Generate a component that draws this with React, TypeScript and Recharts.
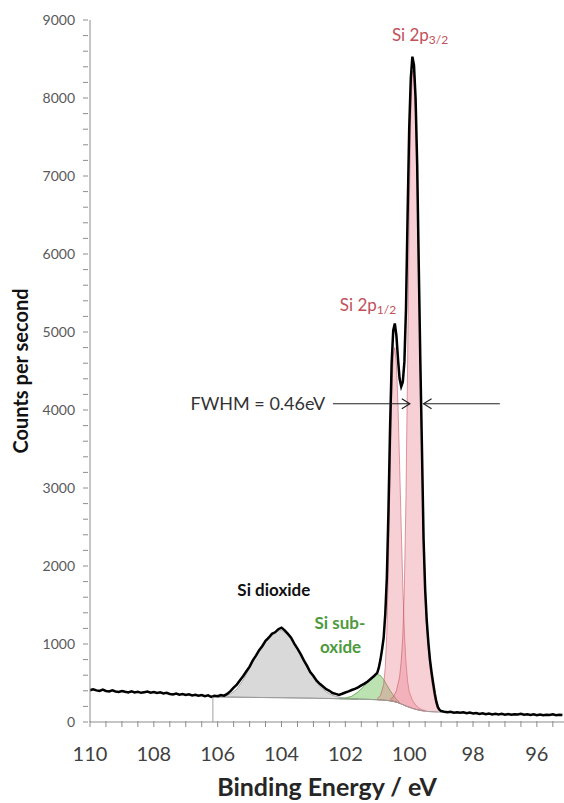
import {
  ComposedChart,
  Area,
  Line,
  XAxis,
  YAxis,
  ReferenceLine,
  ReferenceDot,
} from 'recharts';

// measured spectrum (binding energy, counts per second)
const ENERGY = [
  110.0, 109.9, 109.8, 109.7, 109.6, 109.5, 109.4, 109.3, 109.2, 109.1,
  109.0, 108.9, 108.8, 108.7, 108.6, 108.5, 108.4, 108.3, 108.2, 108.1,
  108.0, 107.9, 107.8, 107.7, 107.6, 107.5, 107.4, 107.3, 107.2, 107.1,
  107.0, 106.9, 106.8, 106.7, 106.6, 106.5, 106.4, 106.3, 106.2, 106.1,
  106.0, 105.9, 105.8, 105.7, 105.6, 105.5, 105.4, 105.3, 105.2, 105.1,
  105.0, 104.9, 104.8, 104.7, 104.6, 104.5, 104.4, 104.3, 104.2, 104.1,
  104.0, 103.9, 103.8, 103.7, 103.6, 103.5, 103.4, 103.3, 103.2, 103.1,
  103.0, 102.9, 102.8, 102.7, 102.6, 102.5, 102.4, 102.3, 102.2, 102.1,
  102.0, 101.9, 101.8, 101.7, 101.6, 101.5, 101.4, 101.3, 101.2, 101.1,
  101.05, 101.0, 100.95, 100.9, 100.85, 100.8, 100.75, 100.7, 100.65, 100.6,
  100.55, 100.5, 100.45, 100.4, 100.35, 100.3, 100.25, 100.2, 100.15, 100.1,
  100.05, 100.0, 99.95, 99.9, 99.85, 99.8, 99.75, 99.7, 99.65, 99.6,
  99.55, 99.5, 99.45, 99.4, 99.35, 99.3, 99.25, 99.2, 99.15, 99.1,
  99.05, 99.0, 98.9, 98.8, 98.7, 98.6, 98.5, 98.4, 98.3, 98.2,
  98.1, 98.0, 97.9, 97.8, 97.7, 97.6, 97.5, 97.4, 97.3, 97.2,
  97.1, 97.0, 96.9, 96.8, 96.7, 96.6, 96.5, 96.4, 96.3, 96.2,
  96.1, 96.0, 95.9, 95.8, 95.7, 95.6, 95.5, 95.4, 95.3, 95.2,
];
const COUNTS = [
  408, 420, 405, 398, 414, 398, 392, 405, 392, 384,
  398, 388, 380, 392, 378, 386, 374, 382, 390, 376,
  385, 372, 380, 366, 374, 360, 352, 364, 350, 358,
  346, 354, 340, 350, 336, 345, 332, 342, 322, 336,
  330, 345, 338, 360, 395, 440, 480, 535, 590, 650,
  710, 790, 850, 920, 975, 1040, 1080, 1130, 1150, 1190,
  1210, 1175, 1130, 1080, 1005, 940, 870, 790, 720, 640,
  590, 530, 490, 455, 420, 400, 372, 360, 348, 362,
  378, 392, 410, 425, 445, 470, 492, 520, 555, 590,
  610, 630, 700, 800, 930, 1080, 1380, 1850, 2700, 3750,
  4600, 5020, 5110, 4950, 4650, 4400, 4300, 4360, 4620, 5300,
  6500, 7600, 8250, 8530, 8420, 8000, 7150, 5850, 4600, 3500,
  2350, 1700, 1300, 1020, 800, 640, 500, 370, 260, 190,
  155, 140, 132, 125, 132, 120, 126, 118, 124, 112,
  120, 110, 116, 104, 112, 100, 108, 98, 106, 96,
  104, 94, 102, 92, 100, 95, 104, 92, 99, 90,
  98, 88, 96, 86, 94, 90, 98, 88, 94, 90,
];

// background (thin grey line)
const BASE_E = [106.15, 105, 104, 103, 102, 101.4, 101, 100.8, 100.6, 100.5, 100.4, 100.3, 100.2, 100.1, 100, 99.9, 99.8, 99.7, 99.6, 99.5, 99.4, 99.3, 99.2, 99.1, 99.0];
const BASE_V = [322, 316, 311, 305, 297, 292, 285, 280, 272, 265, 255, 240, 222, 205, 190, 175, 163, 153, 145, 140, 135, 132, 130, 128, 127];

// Si dioxide component
const DIOX_E = [106.0, 105.8, 105.6, 105.4, 105.2, 105.0, 104.8, 104.6, 104.4, 104.2, 104.0, 103.8, 103.6, 103.4, 103.2, 103.0, 102.8, 102.6, 102.4, 102.2, 102.0, 101.8, 101.6];
const DIOX_LO = [321, 320, 319, 318, 317, 316, 315, 314, 313, 312, 311, 310, 309, 307, 306, 305, 303, 302, 300, 298, 297, 295, 294];
const DIOX_HI = [322, 330, 360, 420, 540, 690, 845, 990, 1100, 1160, 1175, 1120, 1010, 865, 705, 565, 455, 385, 342, 318, 305, 298, 295];

// Si sub-oxide component
const SUB_E = [102.2, 102.0, 101.8, 101.6, 101.4, 101.2, 101.1, 101.0, 100.9, 100.8, 100.7, 100.6, 100.5, 100.4, 100.3];
const SUB_LO = [298, 297, 295, 294, 292, 289, 287, 285, 283, 280, 277, 272, 265, 255, 240];
const SUB_HI = [300, 308, 330, 385, 465, 550, 592, 610, 595, 545, 475, 405, 345, 292, 250];

// Si 2p1/2 component
const P12_E = [101.0, 100.9, 100.8, 100.75, 100.7, 100.65, 100.6, 100.55, 100.5, 100.45, 100.4, 100.35, 100.3, 100.25, 100.2, 100.15, 100.1, 100.05, 100.0, 99.9, 99.8, 99.7, 99.6, 99.5];
const P12_LO = [285, 283, 280, 278, 277, 275, 272, 269, 265, 260, 255, 248, 240, 231, 222, 213, 205, 197, 190, 175, 163, 153, 145, 140];
const P12_HI = [300, 340, 480, 700, 1150, 2050, 3150, 4150, 4700, 4800, 4580, 4050, 3300, 2500, 1750, 1150, 760, 520, 390, 280, 220, 180, 158, 148];

// Si 2p3/2 component
const P32_E = [100.6, 100.5, 100.4, 100.3, 100.25, 100.2, 100.15, 100.1, 100.05, 100.0, 99.95, 99.9, 99.85, 99.8, 99.75, 99.7, 99.65, 99.6, 99.55, 99.5, 99.45, 99.4, 99.35, 99.3, 99.25, 99.2, 99.15, 99.1];
const P32_LO = [272, 265, 255, 240, 231, 222, 213, 205, 197, 190, 182, 175, 169, 163, 158, 153, 149, 145, 142, 140, 137, 135, 133, 132, 131, 130, 129, 128];
const P32_HI = [290, 320, 400, 580, 780, 1100, 1750, 2900, 4600, 6500, 7800, 8350, 8250, 7800, 6950, 5700, 4480, 3380, 2250, 1600, 1200, 920, 700, 540, 410, 300, 215, 160];

const X_TICKS = [110, 109.5, 109, 108.5, 108, 107.5, 107, 106.5, 106, 105.5, 105, 104.5, 104, 103.5, 103, 102.5, 102, 101.5, 101, 100.5, 100, 99.5, 99, 98.5, 98, 97.5, 97, 96.5, 96, 95.5];
const Y_TICKS = [0, 200, 400, 600, 800, 1000, 1200, 1400, 1600, 1800, 2000, 2200, 2400, 2600, 2800, 3000, 3200, 3400, 3600, 3800, 4000, 4200, 4400, 4600, 4800, 5000, 5200, 5400, 5600, 5800, 6000, 6200, 6400, 6600, 6800, 7000, 7200, 7400, 7600, 7800, 8000, 8200, 8400, 8600, 8800, 9000];

const FONT = 'Lato, "Open Sans", sans-serif';
const PINK = '#c0505a';
const GREEN = '#4e9a3e';

type Row = { e: number; [k: string]: any };

const rowMap = new Map<string, Row>();
const row = (e: number) => {
  const k = e.toFixed(2);
  if (!rowMap.has(k)) rowMap.set(k, { e });
  return rowMap.get(k)!;
};
ENERGY.forEach((e, i) => (row(e).total = COUNTS[i]));
BASE_E.forEach((e, i) => (row(e).base = BASE_V[i]));
DIOX_E.forEach((e, i) => (row(e).diox = [DIOX_LO[i], DIOX_HI[i]]));
SUB_E.forEach((e, i) => (row(e).sub = [SUB_LO[i], SUB_HI[i]]));
P12_E.forEach((e, i) => (row(e).p12 = [P12_LO[i], P12_HI[i]]));
P32_E.forEach((e, i) => (row(e).p32 = [P32_LO[i], P32_HI[i]]));
const data = Array.from(rowMap.values()).sort((a, b) => a.e - b.e);

const XTick = ({ x, y, payload }: any) => {
  const v = payload.value;
  const major = Math.abs(v % 2) < 1e-6;
  return (
    <g>
      <line x1={x} x2={x} y1={y - 3} y2={y + 3} stroke="#8c8c8c" />
      {major && (
        <text x={x} y={y + 37} textAnchor="middle" fontSize={20} fontFamily={FONT} fill="#404040">
          {v}
        </text>
      )}
    </g>
  );
};

const YTick = ({ x, y, payload }: any) => {
  const v = payload.value;
  return (
    <g>
      <line x1={x - 5} x2={x} y1={y} y2={y} stroke="#8c8c8c" />
      {v % 1000 === 0 && (
        <text x={x - 13} y={y} dy="0.35em" textAnchor="end" fontSize={14} fontFamily={FONT} fill="#595959">
          {v}
        </text>
      )}
    </g>
  );
};

const Arrow = ({ x1, y1, x2, y2 }: any) => {
  const dir = x2 > x1 ? -1 : 1;
  return (
    <g stroke="#222" strokeWidth={1.2} fill="none">
      <line x1={x1} y1={y1} x2={x2} y2={y2} />
      <polyline points={`${x2 + dir * 8},${y2 - 5} ${x2},${y2} ${x2 + dir * 8},${y2 + 5}`} />
    </g>
  );
};

const Label = (text: any, color: string, bold: boolean, size = 14) => (p: any) => (
  <text
    x={p.cx}
    y={p.cy}
    dy="0.35em"
    textAnchor="middle"
    fontSize={size}
    fontFamily={FONT}
    fontWeight={bold ? 700 : 400}
    fill={color}>
    {text}
  </text>
);

export default function App() {
  return (
    <div style={{ position: 'absolute', left: 0, top: 0, width: 564, height: 803, background: '#fff' }}>
      <ComposedChart width={564} height={803} data={data} margin={{ top: 20, right: 0, bottom: 0, left: 0 }}>
        <XAxis
          dataKey="e"
          type="number"
          domain={[95.15, 110]}
          reversed
          allowDataOverflow
          ticks={X_TICKS}
          interval={0}
          tickSize={0}
          tickLine={false}
          tick={XTick}
          height={81}
          axisLine={{ stroke: '#8c8c8c' }}
          label={{
            content: ({ viewBox }: any) => (
              <text
                x={viewBox.x + viewBox.width / 2}
                y={viewBox.y + 65}
                dy="0.35em"
                textAnchor="middle"
                fontSize={25}
                fontWeight={700}
                fontFamily={FONT}
                fill="#262626">
                Binding Energy / eV
              </text>
            ),
          }}
        />
        <YAxis
          type="number"
          domain={[0, 9000]}
          allowDataOverflow
          ticks={Y_TICKS}
          interval={0}
          tickSize={0}
          tickLine={false}
          tick={YTick}
          width={90}
          axisLine={{ stroke: '#8c8c8c' }}
          label={{
            content: ({ viewBox }: any) => {
              const cx = viewBox.x + 21;
              const cy = viewBox.y + viewBox.height / 2;
              return (
                <text
                  x={cx}
                  y={cy}
                  dy="0.35em"
                  transform={`rotate(-90 ${cx} ${cy})`}
                  textAnchor="middle"
                  fontSize={20}
                  fontWeight={700}
                  fontFamily={FONT}
                  fill="#111">
                  Counts per second
                </text>
              );
            },
          }}
        />

        <Area dataKey="diox" type="linear" connectNulls fill="#cfcfcf" fillOpacity={0.8} stroke="#9a9a9a" strokeWidth={0.8} isAnimationActive={false} />
        <Area dataKey="sub" type="linear" connectNulls fill="#8fce7e" fillOpacity={0.6} stroke="#5aa04a" strokeWidth={0.8} isAnimationActive={false} />
        <Area dataKey="p12" type="linear" connectNulls fill="#e8788a" fillOpacity={0.35} stroke={PINK} strokeWidth={0.8} strokeOpacity={0.7} isAnimationActive={false} />
        <Area dataKey="p32" type="linear" connectNulls fill="#e8788a" fillOpacity={0.35} stroke={PINK} strokeWidth={0.8} strokeOpacity={0.7} isAnimationActive={false} />
        <Line dataKey="base" type="linear" connectNulls stroke="#9a9a9a" strokeWidth={1} dot={false} isAnimationActive={false} />
        <Line dataKey="total" type="linear" connectNulls stroke="#000" strokeWidth={2.5} dot={false} isAnimationActive={false} />

        <ReferenceLine segment={[{ x: 106.15, y: 0 }, { x: 106.15, y: 322 }]} stroke="#a0a0a0" />
        <ReferenceLine segment={[{ x: 102.39, y: 4080 }, { x: 99.98, y: 4080 }]} shape={Arrow} />
        <ReferenceLine segment={[{ x: 97.16, y: 4080 }, { x: 99.55, y: 4080 }]} shape={Arrow} />

        <ReferenceDot x={104.74} y={4080} r={0} shape={Label('FWHM = 0.46eV', '#333', false, 18)} />
        <ReferenceDot
          x={99.66}
          y={8810}
          r={0}
          shape={Label(
            <>
              Si 2p<tspan fontSize={12} dy={3}>3/2</tspan>
            </>,
            PINK,
            false,
            17,
          )}
        />
        <ReferenceDot
          x={101.29}
          y={5350}
          r={0}
          shape={Label(
            <>
              Si 2p<tspan fontSize={12} dy={3}>1/2</tspan>
            </>,
            PINK,
            false,
            17,
          )}
        />
        <ReferenceDot x={104.24} y={1690} r={0} shape={Label('Si dioxide', '#111', true, 17)} />
        <ReferenceDot x={102.17} y={1270} r={0} shape={Label('Si sub-', GREEN, true, 17)} />
        <ReferenceDot x={102.15} y={960} r={0} shape={Label('oxide', GREEN, true, 17)} />
      </ComposedChart>
    </div>
  );
}
